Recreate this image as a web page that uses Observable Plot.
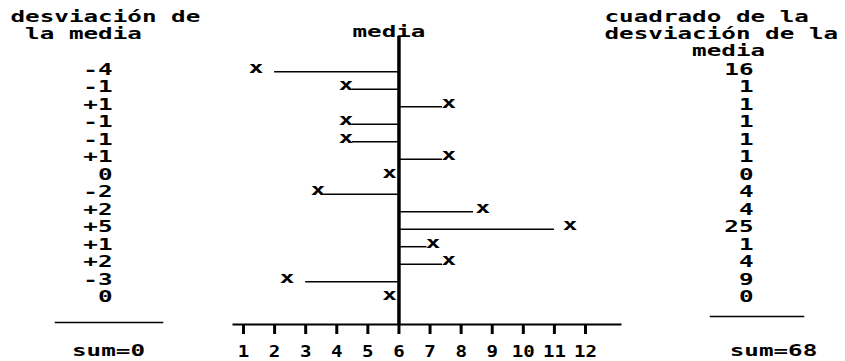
<!DOCTYPE html>
<html><head><meta charset="utf-8">
<script src="https://cdn.jsdelivr.net/npm/d3@7"></script>
<script src="https://cdn.jsdelivr.net/npm/@observablehq/plot@0.6"></script>
<style>
html,body{margin:0;padding:0;background:#fff;}
#chart{display:flex;width:845px;height:361px;overflow:hidden;}
#chart svg{flex:none;display:block;}
</style></head><body><div id="chart"></div>
<script>
// ---- data ----
const rowIndex = [0,1,2,3,4,5,6,7,8,9,10,11,12,13];
const deviationLabels = ["-4","-1","+1","-1","-1","+1","0","-2","+2","+5","+1","+2","-3","0"];
const squareLabels = ["16","1","1","1","1","1","0","4","4","25","1","4","9","0"];
// where each drawn horizontal line ends (in axis units) and where its "x" sits
const lineEnds = [2.0, 4.5, 7.4, 4.5, 4.5, 7.4, 6.0, 3.6, 8.4, 11.0, 6.9, 7.4, 3.0, 6.0];
const markPositions = [1.4, 4.3, 7.6, 4.3, 4.3, 7.6, 5.7, 3.4, 8.7, 11.5, 7.1, 7.6, 2.4, 5.7];
const meanValue = 6;
const xTicks = [1,2,3,4,5,6,7,8,9,10,11,12];
const leftTitle = "desviación de\n la media";
const centerTitle = "media";
const rightTitle = "cuadrado de la\ndesviación de la\n      media";
const leftSum = "sum=0";
const rightSum = "sum=68";
const markGlyph = "x";

const rows = rowIndex.map(i => ({row: i, end: lineEnds[i], mark: markPositions[i], dev: deviationLabels[i], sq: squareLabels[i]}));

const FONT = "'DejaVu Sans Mono', monospace";
const CHAR_W = 14.6;
const TICK_CHAR_W = 11.5;
const yScale = {domain: [-3.9, 14.56], reverse: true, axis: null};
const base = {
  height: 361, marginTop: 1, marginBottom: 37,
  style: {fontFamily: FONT, fontSize: "15px", fontWeight: "bold", background: "transparent", overflow: "visible", color: "black"}
};
const txt = {fontSize: 15, fontWeight: "bold", fontFamily: FONT, fill: "black"};

function stretch(svg) {
  const tickTexts = new Set(svg.querySelectorAll('g[aria-label="x-axis tick label"] text'));
  svg.querySelectorAll("text").forEach(t => {
    const w = tickTexts.has(t) ? TICK_CHAR_W : CHAR_W;
    const spans = t.querySelectorAll("tspan");
    const targets = spans.length ? Array.from(spans) : [t];
    targets.forEach(s => {
      const n = s.textContent.length;
      if (n > 0) {
        s.setAttribute("textLength", (n * w).toFixed(1));
        s.setAttribute("lengthAdjust", "spacingAndGlyphs");
      }
    });
  });
  return svg;
}

const left = Plot.plot({
  ...base, width: 200, marginLeft: 0, marginRight: 0,
  y: yScale, x: {axis: null},
  marks: [
    Plot.text([leftTitle], {...txt, text: d => d, frameAnchor: "top-left", textAnchor: "start", lineAnchor: "top", lineHeight: 1.1, dx: 10, dy: 9}),
    Plot.text(rows, {...txt, y: "row", text: "dev", textAnchor: "end", dx: 12}),
    Plot.frame({anchor: "bottom", insetLeft: 55, insetRight: 38, dy: -2, strokeWidth: 1.5}),
    Plot.text([leftSum], {...txt, text: d => d, frameAnchor: "bottom", lineAnchor: "top", dy: 21, dx: 8})
  ]
});

const center = Plot.plot({
  ...base, width: 445, marginLeft: 33, marginRight: 25,
  y: yScale,
  x: {domain: [0.678, 13.126], axis: null},
  marks: [
    Plot.frame({anchor: "bottom", strokeWidth: 2}),
    Plot.axisX({ticks: xTicks, anchor: "bottom", tickSize: 10, tickPadding: 12, strokeWidth: 3, fontSize: 15, fontWeight: "bold", tickFormat: d => String(d), label: null}),
    Plot.ruleY(rows, {y: "row", x1: () => meanValue, x2: "end", dy: 2, strokeWidth: 1.5, stroke: "black"}),
    Plot.ruleX([meanValue], {x: d => d, insetTop: 35, strokeWidth: 3.5, stroke: "black"}),
    Plot.text(rows, {...txt, x: "mark", y: "row", text: () => markGlyph, dy: -2}),
    Plot.text([centerTitle], {...txt, x: () => meanValue, text: d => d, frameAnchor: "top", lineAnchor: "top", dy: 25, dx: -10})
  ]
});

const right = Plot.plot({
  ...base, width: 200, marginLeft: 0, marginRight: 0,
  y: yScale, x: {axis: null},
  marks: [
    Plot.text([rightTitle], {...txt, text: d => d, frameAnchor: "top-left", textAnchor: "start", lineAnchor: "top", lineHeight: 1.133, dx: -41, dy: 8}),
    Plot.text(rows, {...txt, y: "row", text: "sq", textAnchor: "end", dx: 8}),
    Plot.frame({anchor: "bottom", insetLeft: 65, insetRight: 42, dy: -8, strokeWidth: 1.5}),
    Plot.text([rightSum], {...txt, text: d => d, frameAnchor: "bottom", lineAnchor: "top", dy: 21, dx: 28})
  ]
});

const host = document.getElementById("chart");
[left, center, right].forEach(p => host.appendChild(stretch(p)));
</script></body></html>
